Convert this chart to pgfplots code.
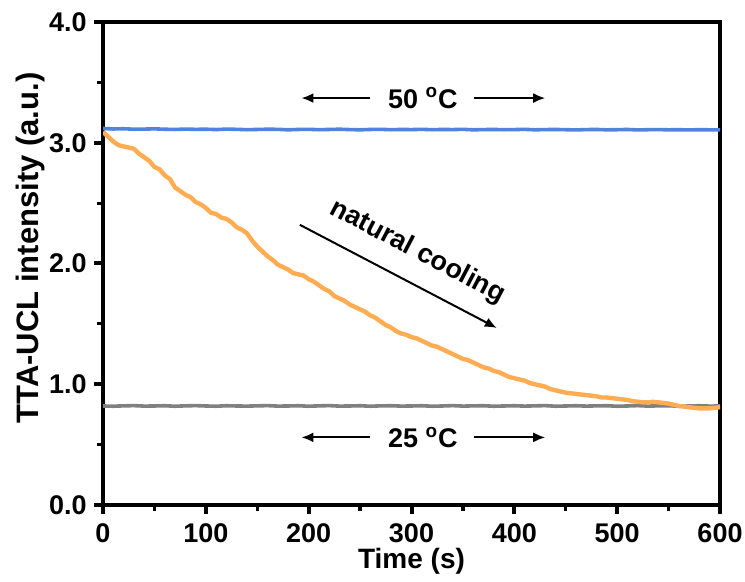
\documentclass[border=0pt]{standalone}
\usepackage{pgfplots}
\pgfplotsset{compat=1.18}
\usepackage{fontspec}
\setmainfont{Liberation Sans}
\usetikzlibrary{arrows.meta}
\definecolor{cblue}{RGB}{79,131,222}
\definecolor{corange}{RGB}{255,172,82}
\definecolor{cgray}{RGB}{128,128,128}
\begin{document}
\begin{tikzpicture}
\begin{axis}[
  scale only axis,
  width=308.5pt, height=241.5pt,
  xmin=0, xmax=600, ymin=0, ymax=4,
  xtick={0,100,...,600}, ytick={0,1,2,3,4},
  minor x tick num=1, minor y tick num=1,
  tick align=outside, tick pos=left,
  major tick length=4.5pt, minor tick length=3pt,
  axis line style={line width=2pt},
  major tick style={black, line width=2pt},
  minor tick style={black, line width=1.6pt},
  /pgf/number format/assume math mode=true,
  yticklabel style={/pgf/number format/fixed, /pgf/number format/precision=1, /pgf/number format/fixed zerofill, inner sep=0pt, xshift=-3.5pt},
  xticklabel style={inner sep=0pt, yshift=-4.5pt},
  every tick label/.append style={font=\fontsize{13.5}{16}\selectfont\bfseries},
  xlabel={Time (s)}, ylabel={TTA-UCL intensity (a.u.)},
  xlabel style={font=\fontsize{14}{17}\selectfont\bfseries, at={(axis description cs:0.5,0)}, anchor=center, yshift=-28pt},
  ylabel style={font=\fontsize{15.5}{18}\selectfont\bfseries, at={(axis description cs:-0.118,0.532)}, anchor=center},
]
\addplot[cblue, line width=1.8pt] coordinates {
(0,3.118) (10,3.114) (20,3.116) (30,3.112) (40,3.113) (50,3.115) (60,3.112) (70,3.11) (80,3.113) (90,3.111)
(100,3.112) (110,3.109) (120,3.113) (130,3.111) (140,3.108) (150,3.11) (160,3.112) (170,3.111) (180,3.107) (190,3.11)
(200,3.111) (210,3.108) (220,3.11) (230,3.112) (240,3.109) (250,3.107) (260,3.11) (270,3.111) (280,3.108) (290,3.11)
(300,3.109) (310,3.111) (320,3.108) (330,3.11) (340,3.109) (350,3.111) (360,3.107) (370,3.109) (380,3.11) (390,3.108)
(400,3.109) (410,3.111) (420,3.107) (430,3.109) (440,3.11) (450,3.108) (460,3.106) (470,3.109) (480,3.11) (490,3.107)
(500,3.108) (510,3.11) (520,3.106) (530,3.108) (540,3.109) (550,3.107) (560,3.108) (570,3.106) (580,3.108) (590,3.107) (600,3.106)
};
\addplot[cgray, line width=1.8pt] coordinates {
(0,0.82) (10,0.818) (20,0.821) (30,0.823) (40,0.819) (50,0.82) (60,0.822) (70,0.818) (80,0.821) (90,0.823)
(100,0.82) (110,0.818) (120,0.822) (130,0.82) (140,0.819) (150,0.821) (160,0.823) (170,0.819) (180,0.82) (190,0.822)
(200,0.818) (210,0.821) (220,0.823) (230,0.819) (240,0.82) (250,0.822) (260,0.818) (270,0.821) (280,0.822) (290,0.819)
(300,0.82) (310,0.822) (320,0.818) (330,0.82) (340,0.823) (350,0.819) (360,0.821) (370,0.822) (380,0.818) (390,0.82)
(400,0.822) (410,0.819) (420,0.821) (430,0.823) (440,0.818) (450,0.82) (460,0.822) (470,0.819) (480,0.821) (490,0.822)
(500,0.818) (510,0.82) (520,0.823) (530,0.819) (540,0.821) (550,0.822) (560,0.818) (570,0.82) (580,0.822) (590,0.819) (600,0.82)
};
\addplot[corange, line width=2.2pt] coordinates {
(0,3.09) (5,3.05) (10,3.01) (15,2.98) (20,2.97) (25,2.96) (30,2.95) (35,2.91) (40,2.88) (45,2.85)
(50,2.80) (55,2.78) (60,2.73) (65,2.70) (70,2.63) (75,2.60) (80,2.57) (85,2.55) (90,2.51) (95,2.49)
(100,2.46) (105,2.42) (110,2.41) (115,2.38) (120,2.37) (125,2.34) (130,2.30) (135,2.28) (140,2.25) (145,2.19)
(150,2.14) (155,2.10) (160,2.06) (165,2.03) (170,1.99) (175,1.97) (180,1.95) (185,1.92) (190,1.91) (195,1.90)
(200,1.87) (205,1.85) (210,1.82) (215,1.79) (220,1.77) (225,1.73) (230,1.71) (235,1.69) (240,1.66) (245,1.64)
(250,1.62) (255,1.60) (260,1.57) (265,1.55) (270,1.52) (275,1.49) (280,1.47) (285,1.44) (290,1.42) (295,1.41)
(300,1.39) (305,1.38) (310,1.36) (315,1.34) (320,1.32) (325,1.31) (330,1.29) (335,1.27) (340,1.25) (345,1.23)
(350,1.21) (355,1.20) (360,1.18) (365,1.16) (370,1.14) (375,1.13) (380,1.11) (385,1.10) (390,1.08) (395,1.06)
(400,1.05) (405,1.04) (410,1.03) (415,1.01) (420,1.00) (425,0.99) (430,0.98) (435,0.96) (440,0.95) (445,0.94)
(450,0.93) (455,0.925) (460,0.92) (465,0.915) (470,0.91) (475,0.905) (480,0.90) (485,0.89) (490,0.89) (495,0.885)
(500,0.88) (505,0.875) (510,0.87) (515,0.86) (520,0.855) (525,0.85) (530,0.85) (535,0.855) (540,0.85) (545,0.845)
(550,0.84) (555,0.83) (560,0.82) (565,0.815) (570,0.81) (575,0.805) (580,0.80) (585,0.80) (590,0.80) (595,0.805) (600,0.81)
};
\draw[-{Latex[length=6pt,width=5pt]}, line width=1pt] (260,3.37) -- (193,3.37);
\draw[-{Latex[length=6pt,width=5pt]}, line width=1pt] (361,3.37) -- (430,3.37);
\node[font=\fontsize{13.5}{16}\selectfont\bfseries] at (311,3.37) {50 \textsuperscript{o}C};
\draw[-{Latex[length=6pt,width=5pt]}, line width=1pt] (260,0.56) -- (193,0.56);
\draw[-{Latex[length=6pt,width=5pt]}, line width=1pt] (361,0.56) -- (430,0.56);
\node[font=\fontsize{13.5}{16}\selectfont\bfseries] at (311,0.56) {25 \textsuperscript{o}C};
\draw[-{Latex[length=6pt,width=5pt]}, line width=1pt] (191.5,2.32) -- (383,1.466);
\node[font=\fontsize{13.5}{16}\selectfont\bfseries, rotate=-27.6] at (306,2.095) {natural cooling};
\end{axis}
\pgfresetboundingbox
\path ([xshift=-51.5pt,yshift=-38pt]current axis.south west) rectangle ([xshift=12.5pt,yshift=11pt]current axis.north east);
\end{tikzpicture}
\end{document}
